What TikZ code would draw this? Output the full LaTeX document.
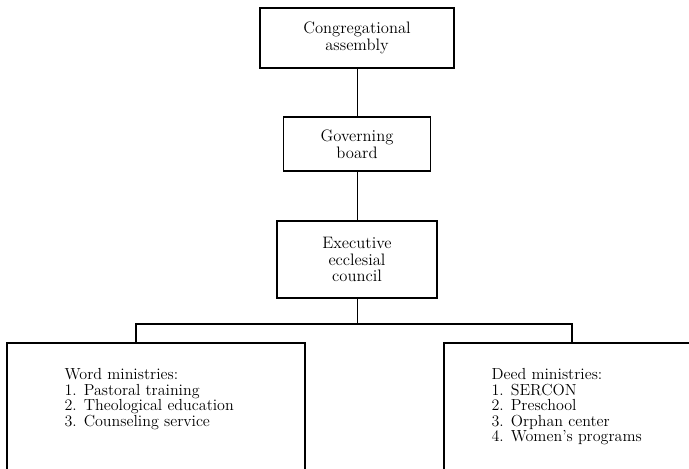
\documentclass[tikz,border=0pt]{standalone}
\begin{document}
\begin{tikzpicture}[x=0.025cm, y=-0.025cm,
        unit/.style={draw, line width=0.9pt, align=center, inner sep=2pt,
            font=\fontsize{11.8}{12}\selectfont},
        ministry/.style={draw, line width=0.9pt, minimum height=3.425cm},
        items/.style={align=left, inner sep=0pt, anchor=north west,
            font=\fontsize{11.4}{11}\selectfont},
        link/.style={line width=0.6pt}]
        \useasboundingbox (0,0) rectangle (689,468);
        \clip (0,0) rectangle (689,468);

        % UPPER BODIES
        \node[unit, minimum width=4.85cm, minimum height=1.5cm] (assembly) at (357,38) {Congregational\\assembly};
        \node[unit, minimum width=3.675cm, minimum height=1.35cm] (board) at (357,144) {Governing\\board};
        \node[unit, minimum width=4cm, minimum height=1.925cm] (council) at (357,259.5) {Executive\\ecclesial\\council};

        \draw[link] (assembly) -- (board);
        \draw[link] (board) -- (council);

        % MINISTRIES (open at the bottom, cut by the clip)
        \node[ministry, minimum width=7.45cm] (word) at (156,411.5) {};
        \node[ministry, minimum width=6.4cm] (deed) at (572,411.5) {};

        \node[items] (wordlist) at ([shift={(58,26)}]word.north west)
            {Word ministries:\\1. Pastoral training\\2. Theological education\\3. Counseling service};
        \node[items] (deedlist) at ([shift={(48,26)}]deed.north west)
            {Deed ministries:\\1. SERCON\\2. Preschool\\3. Orphan center\\4. Women's programs};

        \coordinate (bus) at (357,324);
        \coordinate (wordin) at (136,343);
        \draw[link] (council) -- (bus);
        \draw[line width=0.9pt] (wordin) |- (bus) -| (deed.north);
    \end{tikzpicture}
\end{document}
